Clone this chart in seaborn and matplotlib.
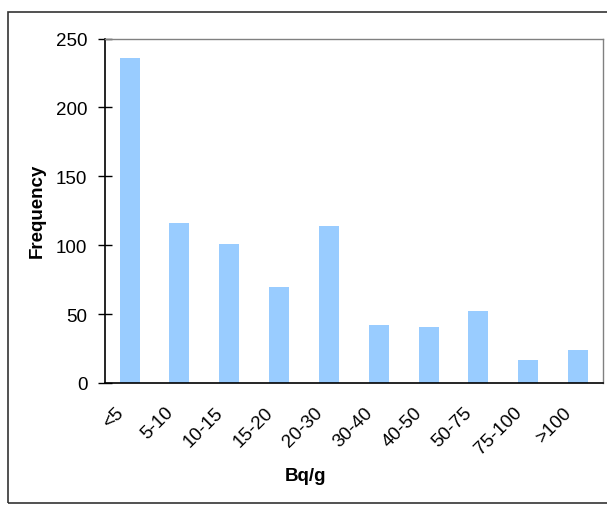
import matplotlib
matplotlib.use("Agg")
import matplotlib.pyplot as plt
import matplotlib.transforms as mtransforms
from matplotlib.patches import Rectangle
import seaborn as sns
import pandas as pd

# Activity bins and how many samples fall in each
bins = ["<5", "5-10", "10-15", "15-20", "20-30", "30-40", "40-50", "50-75", "75-100", ">100"]
counts = [236, 116, 101, 70, 114, 42, 41, 52, 17, 24]
y_ticks = [0, 50, 100, 150, 200, 250]

df = pd.DataFrame({"bin": bins, "count": counts})

sns.set_theme(style="white")
plt.rcParams["font.family"] = ["Liberation Sans", "DejaVu Sans"]
plt.rcParams["text.color"] = "black"
plt.rcParams["axes.labelcolor"] = "black"
plt.rcParams["xtick.color"] = "black"
plt.rcParams["ytick.color"] = "black"

fig = plt.figure(figsize=(6.07, 5.06), dpi=100)
ax = fig.add_axes([104.7 / 607, 1 - 384 / 506, (603 - 104.7) / 607, (384 - 39.5) / 506])

sns.barplot(data=df, x="bin", y="count", color="#99CCFF", width=0.4,
            saturation=1, ax=ax, edgecolor="none")

ax.set_xlim(-0.5, len(bins) - 0.5)
ax.set_ylim(0, 250)
ax.set_yticks(y_ticks)

# Spines: dark axes lines, grey plot-area frame
for side in ["left", "bottom"]:
    ax.spines[side].set_color("black")
    ax.spines[side].set_linewidth(1.2)
for side in ["top", "right"]:
    ax.spines[side].set_color("#808080")
    ax.spines[side].set_linewidth(1.0)

# Category ticks sit between the bars; labels stay at the bar centres
ax.set_xticks([i - 0.5 for i in range(len(bins) + 1)], minor=True)
ax.tick_params(axis="x", which="minor", direction="inout", length=10, width=1, color="#333333")
ax.tick_params(axis="x", which="major", length=0, pad=4, labelsize=13.5, labelcolor="black")
ax.tick_params(axis="y", which="major", direction="inout", length=10, width=1,
               color="black", labelsize=13.5, pad=7.5, left=True, labelcolor="black")

ax.set_xticks(range(len(bins)))
ax.set_xticklabels(bins, rotation=45, ha="right", va="center", rotation_mode="anchor")
offset = mtransforms.ScaledTranslation(-9 / 100, -21 / 100, fig.dpi_scale_trans)
for lab in ax.get_xticklabels():
    lab.set_transform(lab.get_transform() + offset)

ax.set_xlabel("Bq/g", fontsize=13.5, fontweight="bold", color="black")
ax.set_ylabel("Frequency", fontsize=13.5, fontweight="bold", color="black")
ax.xaxis.set_label_coords(305 / 607, 1 - 477 / 506, transform=fig.transFigure)
ax.yaxis.set_label_coords(37 / 607, 1 - 211 / 506, transform=fig.transFigure)
ax.yaxis.label.set_va("center")
ax.xaxis.label.set_va("center")

# Chart-area border
fig.patches.append(Rectangle((8 / 607, 1 - 504 / 506), 1.2, (504 - 12.5) / 506,
                             transform=fig.transFigure, fill=False,
                             edgecolor="#333333", linewidth=1.2))

fig.savefig("out.png", dpi=100, facecolor="white")
